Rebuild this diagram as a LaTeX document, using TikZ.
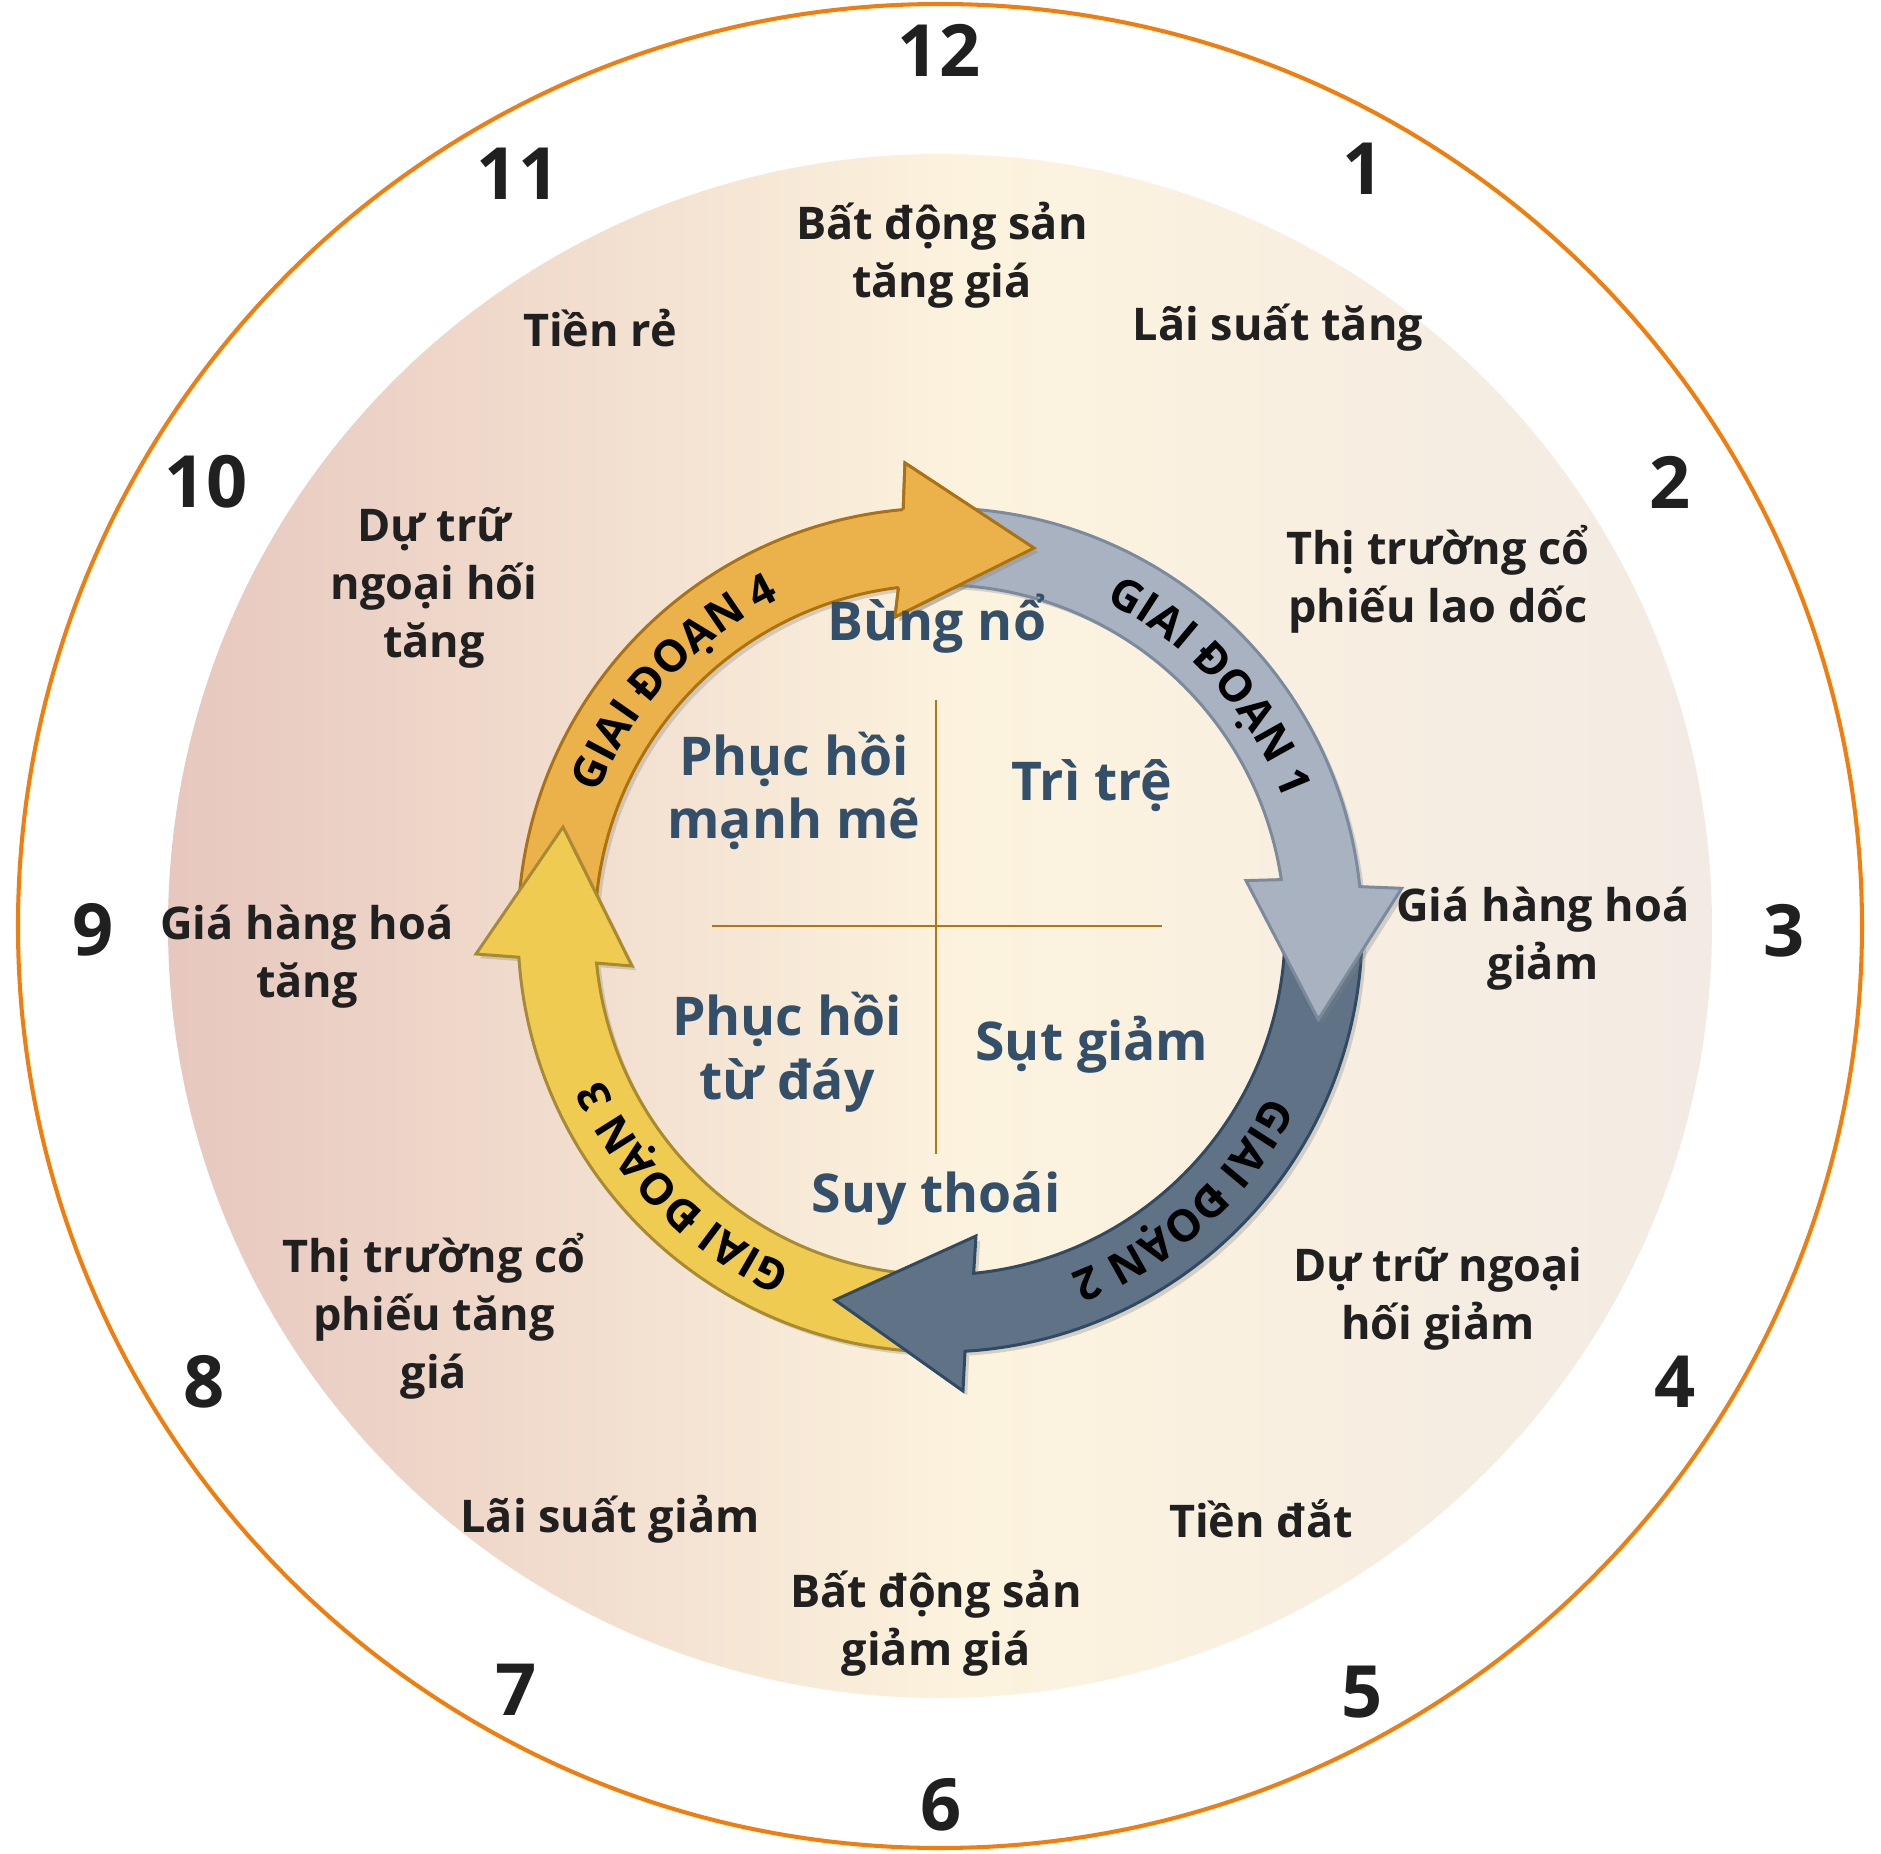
\documentclass[tikz,border=0pt]{standalone}
\usepackage{fontspec}
\setmainfont{Open Sans}
\usetikzlibrary{positioning,shadows,decorations.text}

\definecolor{rimorange}{RGB}{240,125,12}
\definecolor{diskleft}{RGB}{231,199,190}
\definecolor{diskmid}{RGB}{252,243,222}
\definecolor{diskright}{RGB}{243,234,228}
\definecolor{crossline}{RGB}{176,120,20}
\definecolor{inkdark}{RGB}{32,32,32}
\definecolor{inkblue}{RGB}{52,79,106}
\definecolor{st1fill}{RGB}{168,178,193}
\definecolor{st1line}{RGB}{124,138,158}
\definecolor{st2fill}{RGB}{96,114,134}
\definecolor{st2line}{RGB}{48,74,100}
\definecolor{st3fill}{RGB}{240,203,82}
\definecolor{st3line}{RGB}{168,138,48}
\definecolor{st4fill}{RGB}{235,178,76}
\definecolor{st4line}{RGB}{172,114,16}

\pgfdeclarehorizontalshading{diskshade}{100bp}{color(0bp)=(diskleft); color(25bp)=(diskleft);
  color(51bp)=(diskmid); color(75bp)=(diskright); color(100bp)=(diskright)}

\newcommand\stagefont{\fontsize{12.5}{14}\selectfont\bfseries}

\tikzset{hour/.style={font=\fontsize{20.5}{24}\selectfont\bfseries,text=inkdark,inner sep=0pt}}
\tikzset{fact/.style={font=\fontsize{12.8}{16.5}\selectfont\bfseries,text=inkdark,align=center,inner sep=0pt}}
\tikzset{phase/.style={font=\fontsize{15.2}{18.1}\selectfont\bfseries,text=inkblue,align=center,inner sep=0pt}}
\tikzset{stagearrow/.style={line width=0.85pt,line join=miter,
    drop shadow={opacity=0.3,shadow xshift=1.2pt,shadow yshift=-1.2pt}}}
\tikzset{stagelabel/.style={decorate,decoration={text along path,text align=center,text={|\stagefont|#1}}}}

\begin{document}
\begin{tikzpicture}[x=0.01cm,y=0.01cm]
      \useasboundingbox (-940,-924) rectangle (941,930);
      \fill[white] (-940,-924) rectangle (941,930);

      % clock face
      \shade[shading=diskshade] (0,4) circle[radius=772];
      \draw[rimorange,line width=1.15pt] (0,4) circle[radius=922];

      % quadrants
      \draw[crossline,line width=0.85pt] (-228,4) -- (222,4);
      \draw[crossline,line width=0.85pt] (-4,230) -- (-4,-224);

      % stage arrows
      \filldraw[stagearrow,fill=st4fill,draw=st4line]
      (178:422) arc[start angle=178,end angle=95,radius=422]
      -- (-35,467) -- (94,382) -- (-45,313) -- (96.9:345)
      arc[start angle=96.9,end angle=178,radius=345] -- cycle;
      \filldraw[stagearrow,fill=st3fill,draw=st3line]
      (-93:422) arc[start angle=-93,end angle=-176.3,radius=422]
      -- (-464,-24) -- (-377,103) -- (-308,-36) -- (-174.5:345)
      arc[start angle=-174.5,end angle=-93,radius=345] -- cycle;
      \filldraw[stagearrow,fill=st2fill,draw=st2line]
      (5:422) arc[start angle=5,end angle=-86.6,radius=422]
      -- (23,-461) -- (-105,-370) -- (36,-306) -- (-84.4:345)
      arc[start angle=-84.4,end angle=5,radius=345] -- cycle;
      \filldraw[stagearrow,fill=st1fill,draw=st1line]
      (92:422) arc[start angle=92,end angle=5.9,radius=422]
      -- (461.7,41.7) -- (378.3,-89.5) -- (306,49.4) -- (8.4:345)
      arc[start angle=8.4,end angle=92,radius=345] -- cycle;
      % head of stage 4 lies over the tail of stage 1
      \fill[st4fill,drop shadow={opacity=0.3,shadow xshift=1.2pt,shadow yshift=-1.2pt}]
      (95:422) -- (-35,467) -- (94,382) -- (-45,313) -- (96.9:345) -- cycle;
      \draw[st4line,line width=0.85pt,line join=miter]
      (95:422) -- (-35,467) -- (94,382) -- (-45,313) -- (96.9:345);

      \path[stagelabel={GIAI ĐOẠN 4}] (167:368) arc[start angle=167,end angle=107,radius=368];
      \path[stagelabel={GIAI ĐOẠN 1}] (72:368) arc[start angle=72,end angle=12,radius=368];
      \path[stagelabel={GIAI ĐOẠN 2}] (-18:368) arc[start angle=-18,end angle=-78,radius=368];
      \path[stagelabel={GIAI ĐOẠN 3}] (-105:368) arc[start angle=-105,end angle=-165,radius=368];

      % phases
      \node[phase](bungno) at (-3,306){Bùng nổ};
      \node[phase](phmanh) at (-146,139){Phục hồi\\mạnh mẽ};
      \node[phase](tritre) at (152,144){Trì trệ};
      \node[phase](phday) at (-153,-122){Phục hồi\\từ đáy};
      \node[phase](sutgiam) at (152,-115){Sụt giảm};
      \node[phase](suythoai) at (-4,-268){Suy thoái};

      % facts round the dial
      \node[fact](bdstang) at (2,675){Bất động sản\\tăng giá};
      \node[fact](laitang) at (338,602){Lãi suất tăng};
      \node[fact](cpdoc) at (498,351){Thị trường cổ\\phiếu lao dốc};
      \node[fact](hhgiam) at (603,-9){Giá hàng hoá\\giảm};
      \node[fact](dtgiam) at (498,-369){Dự trữ ngoại\\hối giảm};
      \node[fact](tiendat) at (321,-589){Tiền đắt};
      \node[fact](bdsgiam) at (-4,-693){Bất động sản\\giảm giá};
      \node[fact](laigiam) at (-330,-589){Lãi suất giảm};
      \node[fact](cptang) at (-506,-386){Thị trường cổ\\phiếu tăng\\giá};
      \node[fact](hhtang) at (-633,-27){Giá hàng hoá\\tăng};
      \node[fact](dttang) at (-506,342){Dự trữ\\ngoại hối\\tăng};
      \node[fact](tienre) at (-340,602){Tiền rẻ};

      % hours
      \node[hour](h12) at (-1,880){12};
      \node[hour](h1) at (423,761){1};
      \node[hour](h2) at (730,448){2};
      \node[hour](h3) at (844,-1){3};
      \node[hour](h4) at (735,-452){4};
      \node[hour](h5) at (422,-762){5};
      \node[hour](h6) at (1,-875){6};
      \node[hour](h7) at (-424,-760){7};
      \node[hour](h8) at (-736,-452){8};
      \node[hour](h9) at (-847,0){9};
      \node[hour](h10) at (-734,448){10};
      \node[hour](h11) at (-422,756){11};
\end{tikzpicture}
\end{document}
